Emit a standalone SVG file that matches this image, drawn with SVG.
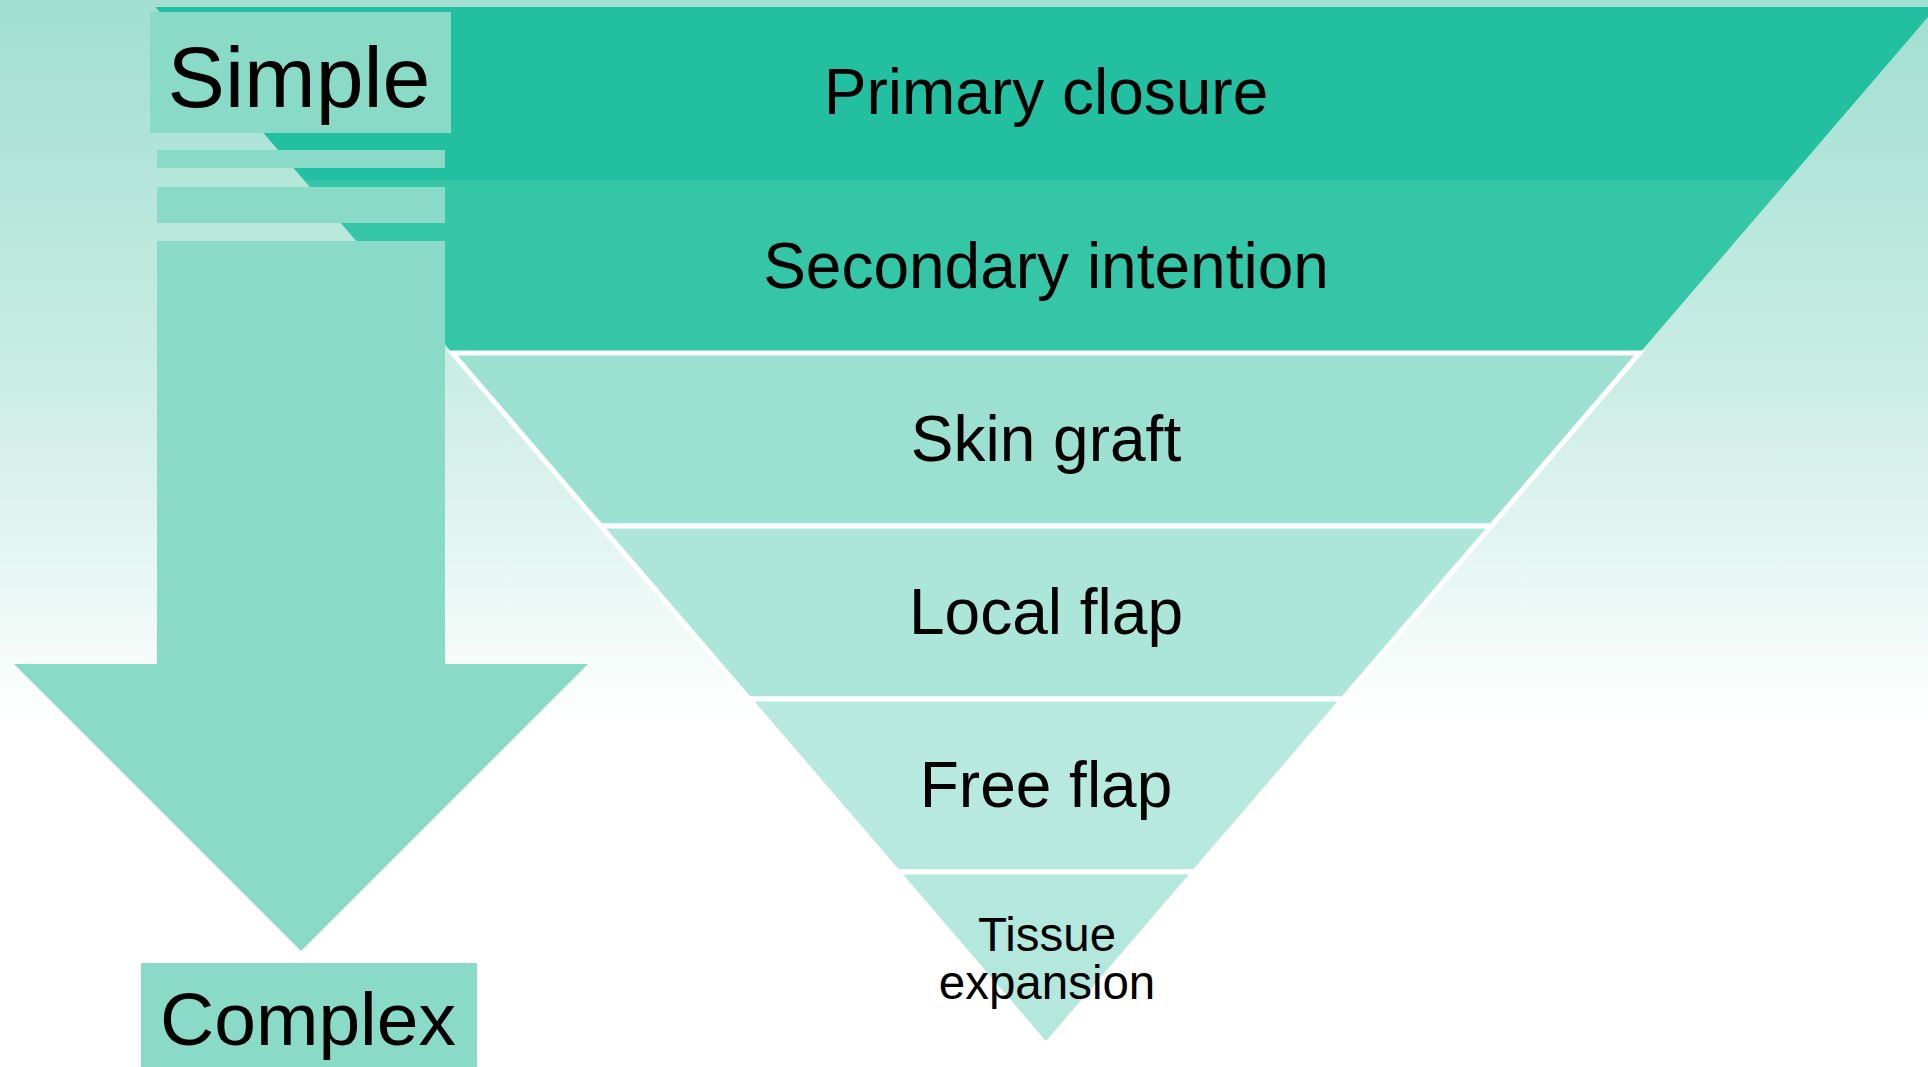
<svg xmlns="http://www.w3.org/2000/svg" width="1928" height="1067" viewBox="0 0 1928 1067">
  <defs>
    <linearGradient id="bg" x1="0" y1="0" x2="0" y2="1067" gradientUnits="userSpaceOnUse">
      <stop offset="0" stop-color="#a0dfd1"/>
      <stop offset="0.36" stop-color="#cbede4"/>
      <stop offset="0.68" stop-color="#ffffff"/>
      <stop offset="1" stop-color="#ffffff"/>
    </linearGradient>
    <style>
      .lbl { font-family: "Liberation Sans", Arial, sans-serif; fill: #000000; text-anchor: middle; }
      .big { font-size: 64px; }
      .small { font-size: 47.5px; }
      .layer { stroke: #ffffff; stroke-width: 5; stroke-linejoin: miter; }
      .arrow { fill: #8adac8; }
    </style>
  </defs>

  <rect x="0" y="0" width="1928" height="1067" fill="url(#bg)"/>

  <!-- Inverted pyramid -->
  <g id="primary-closure">
    <polygon points="155.4,7 1936.6,7 1788.2,180 303.8,180" fill="#22c0a0"/>
    <text class="lbl big" x="1046" y="114">Primary closure</text>
  </g>
  <g id="secondary-intention">
    <polygon points="303.8,180 1788.2,180 1639.7,353 452.3,353" fill="#35c6a8"/>
    <text class="lbl big" x="1046" y="288">Secondary intention</text>
  </g>
  <g id="skin-graft">
    <polygon class="layer" points="452.3,353 1639.7,353 1491.3,526 600.7,526" fill="#9ce0d2"/>
    <text class="lbl big" x="1046" y="461">Skin graft</text>
  </g>
  <g id="local-flap">
    <polygon class="layer" points="600.7,526 1491.3,526 1342.9,699 749.1,699" fill="#ace6d9"/>
    <text class="lbl big" x="1046" y="634">Local flap</text>
  </g>
  <g id="free-flap">
    <polygon class="layer" points="749.1,699 1342.9,699 1194.4,872 897.6,872" fill="#b8e9de"/>
    <text class="lbl big" x="1046" y="807">Free flap</text>
  </g>
  <g id="tissue-expansion">
    <polygon class="layer" points="897.6,872 1194.4,872 1046,1045" fill="#b4e8dc"/>
    <text class="lbl small" x="1047" y="951">Tissue</text>
    <text class="lbl small" x="1047" y="999">expansion</text>
  </g>

  <!-- Simple to Complex arrow -->
  <g id="connectors">
    <rect class="arrow" x="157" y="150" width="288" height="18"/>
    <rect class="arrow" x="157" y="187" width="288" height="36"/>
    <polygon class="arrow" points="157,241 445,241 445,664 588,664 301,951 14,664 157,664"/>
  </g>

  <g id="simple">
    <rect class="arrow" x="150" y="12" width="301" height="121"/>
    <text class="lbl" x="299" y="107" font-size="86">Simple</text>
  </g>
  <g id="complex">
    <rect class="arrow" x="141" y="963" width="336" height="104"/>
    <text class="lbl" x="308" y="1045" font-size="75">Complex</text>
  </g>
</svg>
